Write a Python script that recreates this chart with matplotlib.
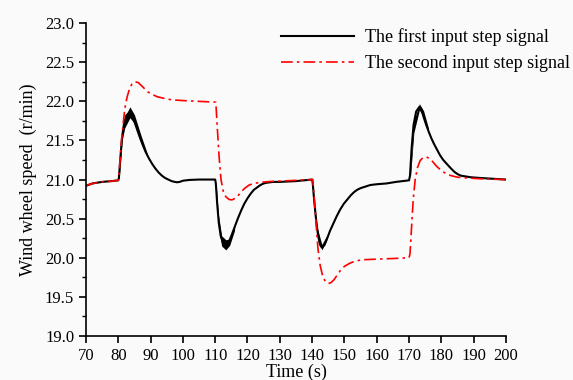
"""
Wind wheel speed response to two input step signals.
"""

import matplotlib.pyplot as plt
from matplotlib.ticker import MultipleLocator

plt.rcParams['font.family'] = ['Liberation Serif', 'DejaVu Serif']

# first input step signal (centre of the oscillating trace)
T_FIRST = [70, 72, 75, 78, 80, 80.2, 80.7, 81.2, 81.8, 82.5, 83.6, 84.5, 85.5, 86.5, 87.5, 88.5,
           89.5, 90.5, 91.5, 92.5, 93.5, 94.5, 95.5, 96.5, 97.5, 98.2, 99, 100, 102, 105, 110,
           110.2, 110.6, 111.1, 111.7, 112.4, 113.3, 114, 115, 116, 117, 118, 119, 120, 121, 122,
           123, 124, 125, 126, 128, 130, 135, 140, 140.2, 140.6, 141.2, 141.8, 142.4, 143, 143.8,
           144.6, 145.5, 146.6, 147.6, 148.6, 149.8, 151, 152, 153, 154, 155, 156.5, 158, 160,
           163, 166, 170, 170.3, 170.8, 171.4, 172.2, 173.2, 173.8, 174.5, 175.3, 176.2, 177,
           177.8, 178.7, 179.6, 180.6, 181.7, 182.8, 184, 185, 186, 187.5, 189, 192, 196, 200]
Y_FIRST = [20.92, 20.95, 20.97, 20.98, 20.99, 21.02, 21.3, 21.55, 21.72, 21.82, 21.86, 21.8, 21.68,
           21.56, 21.45, 21.35, 21.27, 21.2, 21.14, 21.09, 21.05, 21.02, 21.0, 20.98, 20.97,
           20.965, 20.97, 20.985, 20.995, 21.0, 21.0, 20.95, 20.7, 20.45, 20.28, 20.19, 20.16,
           20.18, 20.28, 20.39, 20.5, 20.6, 20.69, 20.76, 20.82, 20.87, 20.9, 20.93, 20.95, 20.96,
           20.97, 20.97, 20.98, 21.0, 20.95, 20.75, 20.5, 20.3, 20.17, 20.13, 20.16, 20.24, 20.34,
           20.44, 20.53, 20.61, 20.69, 20.75, 20.8, 20.84, 20.87, 20.89, 20.91, 20.93, 20.94,
           20.95, 20.97, 20.99, 21.05, 21.4, 21.7, 21.87, 21.93, 21.9, 21.8, 21.7, 21.6, 21.52,
           21.45, 21.38, 21.31, 21.25, 21.2, 21.15, 21.1, 21.07, 21.05, 21.04, 21.03, 21.02,
           21.01, 21.0]

# envelope of the fast oscillation on the first signal
BAND_T = [[80.3, 81.2, 82, 83.6, 85, 87, 89],
          [110.3, 111, 112, 113.3, 114.5, 116],
          [140.3, 141.5, 143, 144.5],
          [170.4, 171.5, 173.2, 174.5, 176]]
BAND_LO = [[21.02, 21.5, 21.66, 21.79, 21.72, 21.5, 21.3],
           [20.85, 20.4, 20.15, 20.10, 20.16, 20.35],
           [20.75, 20.3, 20.10, 20.22],
           [21.02, 21.6, 21.89, 21.8, 21.6]]
BAND_HI = [[21.08, 21.62, 21.8, 21.93, 21.83, 21.57, 21.33],
           [20.95, 20.55, 20.28, 20.23, 20.24, 20.42],
           [20.85, 20.4, 20.17, 20.28],
           [21.12, 21.75, 21.97, 21.88, 21.66]]

# second input step signal
T_SECOND = [70, 72, 75, 78, 80, 80.3, 81, 82, 82.7, 83.4, 84.2, 85.2, 86.2, 87.2, 88.2, 89.2, 90.5,
            92, 94, 96.5, 100, 105, 110.2, 110.6, 111.2, 111.8, 112.5, 113.3, 114.3, 115.2, 116.2,
            117.2, 118.2, 119.2, 120.5, 122, 124, 127, 130, 135, 140.2, 140.6, 141.2, 141.8, 142.5,
            143.3, 144.2, 145, 145.8, 146.8, 147.8, 148.8, 150, 151.7, 153.5, 156, 159, 165, 170,
            170.3, 170.8, 171.3, 171.9, 172.6, 173.4, 174.3, 175.3, 176.3, 177.3, 178.3, 179.3,
            180.5, 181.7, 183, 185, 188, 192, 200]
Y_SECOND = [20.92, 20.95, 20.97, 20.98, 20.99, 21.1, 21.5, 21.9, 22.05, 22.15, 22.22, 22.25, 22.24,
            22.2, 22.16, 22.12, 22.09, 22.06, 22.04, 22.02, 22.01, 22.0, 21.99, 21.7, 21.3, 21.0,
            20.85, 20.78, 20.745, 20.74, 20.76, 20.8, 20.85, 20.89, 20.93, 20.95, 20.965, 20.975,
            20.98, 20.99, 21.0, 20.8, 20.45, 20.12, 19.9, 19.76, 19.69, 19.67, 19.68, 19.72, 19.78,
            19.84, 19.89, 19.93, 19.96, 19.975, 19.98, 19.99, 20.0, 20.05, 20.4, 20.75, 21.0,
            21.15, 21.24, 21.28, 21.29, 21.27, 21.23, 21.18, 21.14, 21.1, 21.07, 21.05, 21.03,
            21.02, 21.01, 21.0]

fig = plt.figure(figsize=(5.73, 3.8), dpi=100, facecolor='#fafafa')
ax = fig.add_axes([0.150, 0.116, 0.733, 0.823], facecolor='#fafafa')

ax.plot(T_FIRST, Y_FIRST, c='k', lw=1.5, label='The first input step signal')
for t, lo, hi in zip(BAND_T, BAND_LO, BAND_HI):
    ax.fill_between(t, lo, hi, color='k', lw=0)
ax.plot(T_SECOND, Y_SECOND, c='r', lw=1.2, dashes=(7, 2.5, 1.5, 2.5),
        label='The second input step signal')

ax.set_xlim(70, 200)
ax.set_ylim(19.0, 23.0)
ax.xaxis.set_major_locator(MultipleLocator(10))
ax.yaxis.set_major_locator(MultipleLocator(0.5))
ax.yaxis.set_minor_locator(MultipleLocator(0.25))
ax.yaxis.set_major_formatter('{x:.1f}')

for s in ['top', 'right']:
    ax.spines[s].set_visible(False)
for s in ['left', 'bottom']:
    ax.spines[s].set_linewidth(1.2)
ax.tick_params(which='major', direction='out', length=5, width=1.2, labelsize=12)
ax.tick_params(which='minor', direction='out', length=3, width=1.0)

ax.set_xlabel('Time (s)', fontsize=13, labelpad=0)
ax.set_ylabel('Wind wheel speed  (r/min)', fontsize=13, labelpad=6)

ax.legend(loc='upper right', bbox_to_anchor=(1.19, 1.035), frameon=False, fontsize=13,
          handlelength=4.0, handletextpad=0.6, labelspacing=0.5)

fig.savefig('out.png', dpi=100, facecolor=fig.get_facecolor())
